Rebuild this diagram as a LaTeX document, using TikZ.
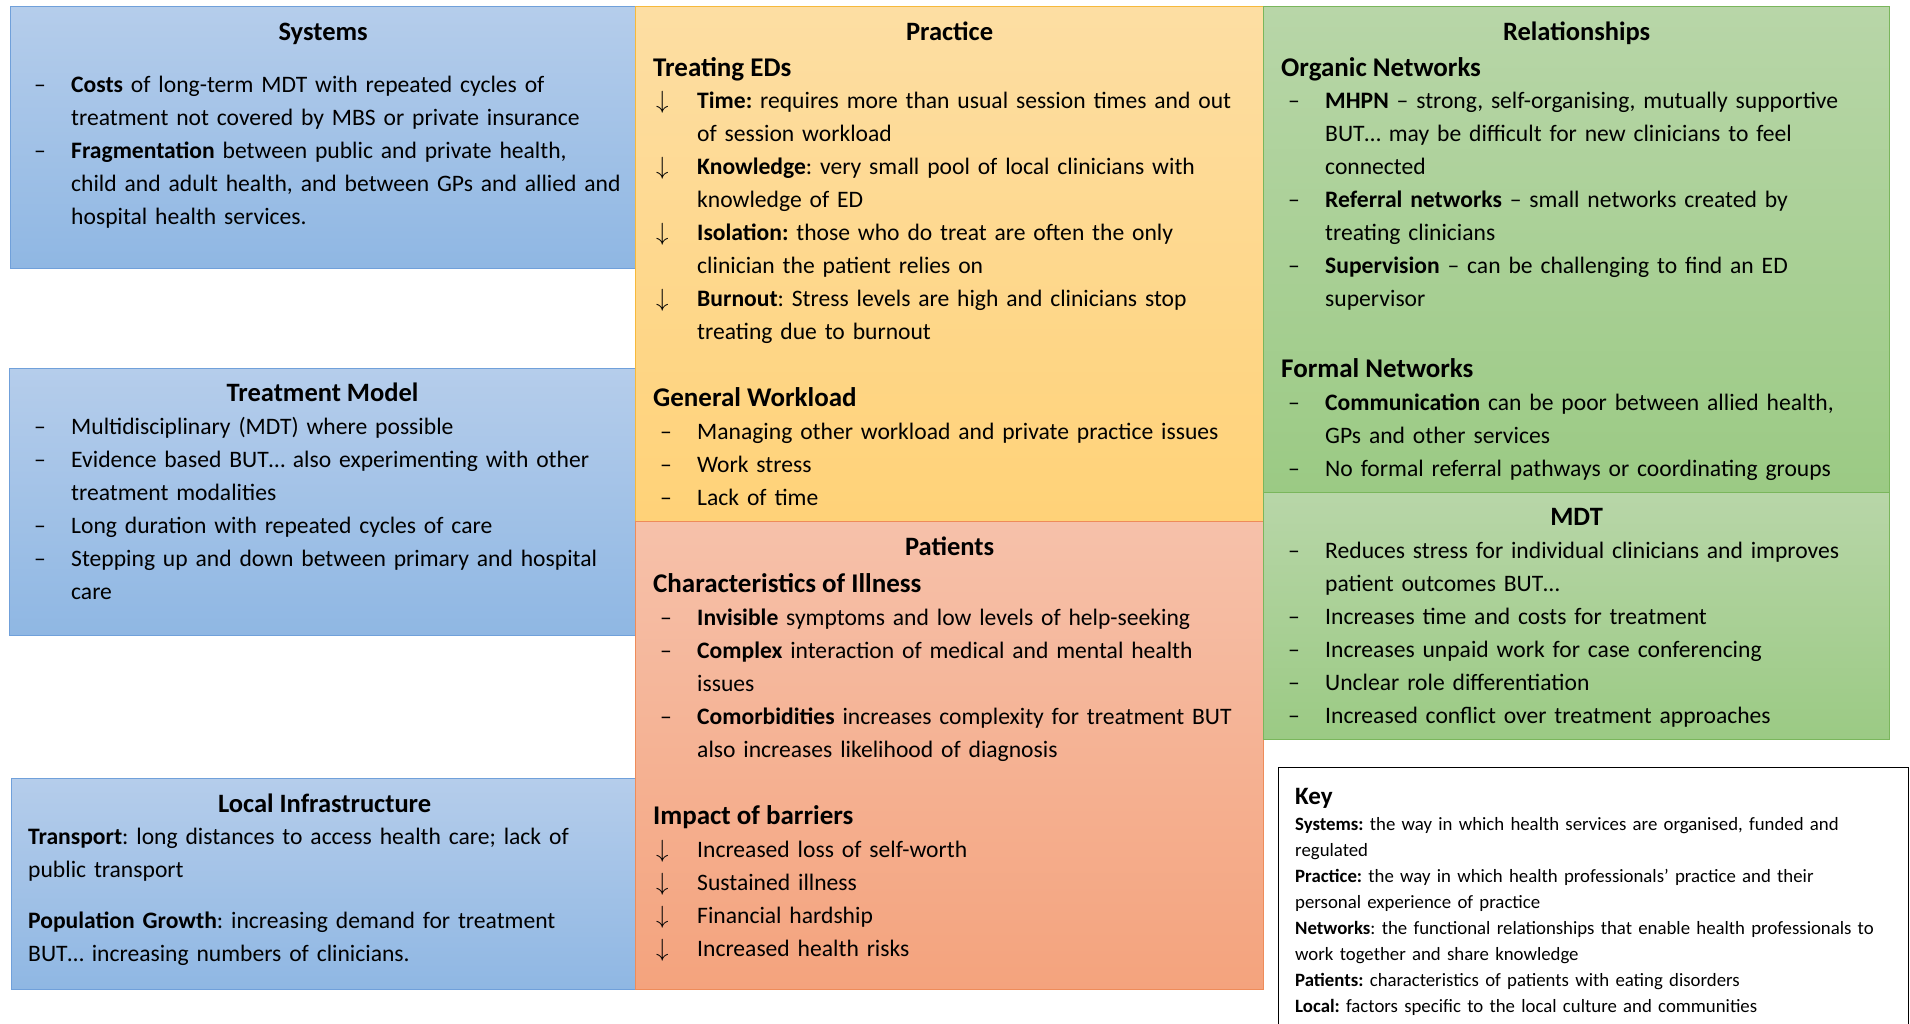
\documentclass[tikz,border=0pt]{standalone}
\usepackage{fontspec}
\setmainfont{Carlito}
\frenchspacing
\usetikzlibrary{positioning}

\definecolor{bluetop}{RGB}{181,205,235}
\definecolor{bluebot}{RGB}{143,183,227}
\definecolor{blueline}{RGB}{112,160,218}
\definecolor{ambertop}{RGB}{253,222,163}
\definecolor{amberbot}{RGB}{255,210,120}
\definecolor{amberline}{RGB}{246,185,60}
\definecolor{salmontop}{RGB}{246,193,170}
\definecolor{salmonbot}{RGB}{244,163,125}
\definecolor{salmonline}{RGB}{238,140,90}
\definecolor{greentop}{RGB}{184,214,168}
\definecolor{greenbot}{RGB}{155,202,132}
\definecolor{greenline}{RGB}{122,182,92}

\newcommand{\dashln}[1]{\makebox[44pt][l]{\hspace{7pt}–}#1\par}
\newcommand{\arrowln}[1]{\makebox[44pt][l]{\hspace{3pt}{\fontsize{27}{33}\selectfont$\downarrow$}}#1\par}
\newcommand{\contln}[1]{\leavevmode\hspace*{44pt}#1\par}

\tikzset{
  panel/.style={draw, line width=1.2pt, inner sep=0pt, anchor=north west},
  bluepanel/.style={panel, top color=bluetop, bottom color=bluebot, draw=blueline},
  amberpanel/.style={panel, top color=ambertop, bottom color=amberbot, draw=amberline},
  salmonpanel/.style={panel, top color=salmontop, bottom color=salmonbot, draw=salmonline},
  greenpanel/.style={panel, top color=greentop, bottom color=greenbot, draw=greenline},
  paneltitle/.style={anchor=base, inner sep=0pt, font=\fontsize{26.5}{33}\selectfont\bfseries},
  subhead/.style={anchor=base west, inner sep=0pt, font=\fontsize{27}{33}\selectfont\bfseries},
  body/.style={anchor=base west, inner sep=0pt, text width=600pt, align=left,
    font=\fontsize{23.6}{33}\selectfont},
  keybody/.style={anchor=base west, inner sep=0pt, text width=610pt, align=left,
    font=\fontsize{18.8}{26}\selectfont}
}

\begin{document}
\begin{tikzpicture}[x=1pt,y=1pt]
\useasboundingbox (0,0) rectangle (1910,-1024);

% left column
\node[bluepanel, minimum width=625pt, minimum height=262pt] (systems) at (10,-6) {};
\node[bluepanel, minimum width=626pt, minimum height=267pt] (treatment) at (9,-368) {};
\node[bluepanel, minimum width=626pt, minimum height=211pt] (local) at (11,-778) {};

% middle column
\node[amberpanel, minimum width=628pt, minimum height=515pt] (practice) at (635,-6) {};
\node[salmonpanel, minimum width=628pt, minimum height=468pt] (patients) at (635,-521) {};

% right column
\node[greenpanel, minimum width=626pt, minimum height=486pt] (relations) at (1263,-6) {};
\node[greenpanel, minimum width=626pt, minimum height=247pt] (mdt) at (1263,-492) {};
\node[inner sep=0pt, anchor=north west, minimum width=630pt, minimum height=257pt] (key) at (1278,-767) {};
\draw[line width=1pt] (key.south west) -- (key.north west) -- (key.north east) -- (key.south east);

% titles
\node[paneltitle] (systemstitle) at ([yshift=-35pt]systems.north) {Systems};
\node[paneltitle] (treatmenttitle) at ([yshift=-33pt]treatment.north) {Treatment Model};
\node[paneltitle] (localtitle) at ([yshift=-34pt]local.north) {Local Infrastructure};
\node[paneltitle] (practicetitle) at ([yshift=-35pt]practice.north) {Practice};
\node[paneltitle] (patientstitle) at ([yshift=-34pt]patients.north) {Patients};
\node[paneltitle] (relationstitle) at ([yshift=-35pt]relations.north) {Relationships};
\node[paneltitle] (mdttitle) at ([yshift=-33pt]mdt.north) {MDT};

% systems
\node[body] (systemstext) at ([shift={(17pt,-87pt)}]systems.north west) {%
  \dashln{\textbf{Costs} of long-term MDT with repeated cycles of}
  \contln{treatment not covered by MBS or private insurance}
  \dashln{\textbf{Fragmentation} between public and private health,}
  \contln{child and adult health, and between GPs and allied and}
  \contln{hospital health services.}};

% treatment model
\node[body] (treatmenttext) at ([shift={(18pt,-66pt)}]treatment.north west) {%
  \dashln{Multidisciplinary (MDT) where possible}
  \dashln{Evidence based BUT… also experimenting with other}
  \contln{treatment modalities}
  \dashln{Long duration with repeated cycles of care}
  \dashln{Stepping up and down between primary and hospital}
  \contln{care}};

% local infrastructure
\node[body] (localtext) at ([shift={(17pt,-66pt)}]local.north west) {%
  \textbf{Transport}: long distances to access health care; lack of\par
  public transport\par\vspace{18pt}
  \textbf{Population Growth}: increasing demand for treatment\par
  BUT… increasing numbers of clinicians.\par};

% practice
\node[subhead] (treating) at ([shift={(18pt,-71pt)}]practice.north west) {Treating EDs};
\node[body] (treatingtext) at ([shift={(18pt,-103pt)}]practice.north west) {%
  \arrowln{\textbf{Time:} requires more than usual session times and out}
  \contln{of session workload}
  \arrowln{\textbf{Knowledge}: very small pool of local clinicians with}
  \contln{knowledge of ED}
  \arrowln{\textbf{Isolation:} those who do treat are often the only}
  \contln{clinician the patient relies on}
  \arrowln{\textbf{Burnout}: Stress levels are high and clinicians stop}
  \contln{treating due to burnout}};
\node[subhead] (workload) at ([shift={(18pt,-400pt)}]practice.north west) {General Workload};
\node[body] (workloadtext) at ([shift={(18pt,-433pt)}]practice.north west) {%
  \dashln{Managing other workload and private practice issues}
  \dashln{Work stress}
  \dashln{Lack of time}};

% patients
\node[subhead] (illness) at ([shift={(18pt,-71pt)}]patients.north west) {Characteristics of Illness};
\node[body] (illnesstext) at ([shift={(18pt,-104pt)}]patients.north west) {%
  \dashln{\textbf{Invisible} symptoms and low levels of help-seeking}
  \dashln{\textbf{Complex} interaction of medical and mental health}
  \contln{issues}
  \dashln{\textbf{Comorbidities} increases complexity for treatment BUT}
  \contln{also increases likelihood of diagnosis}};
\node[subhead] (impact) at ([shift={(18pt,-303pt)}]patients.north west) {Impact of barriers};
\node[body] (impacttext) at ([shift={(18pt,-336pt)}]patients.north west) {%
  \arrowln{Increased loss of self-worth}
  \arrowln{Sustained illness}
  \arrowln{Financial hardship}
  \arrowln{Increased health risks}};

% relationships
\node[subhead] (organic) at ([shift={(18pt,-71pt)}]relations.north west) {Organic Networks};
\node[body] (organictext) at ([shift={(18pt,-103pt)}]relations.north west) {%
  \dashln{\textbf{MHPN} – strong, self-organising, mutually supportive}
  \contln{BUT… may be difficult for new clinicians to feel}
  \contln{connected}
  \dashln{\textbf{Referral networks} – small networks created by}
  \contln{treating clinicians}
  \dashln{\textbf{Supervision} – can be challenging to find an ED}
  \contln{supervisor}};
\node[subhead] (formal) at ([shift={(18pt,-371pt)}]relations.north west) {Formal Networks};
\node[body] (formaltext) at ([shift={(18pt,-404pt)}]relations.north west) {%
  \dashln{\textbf{Communication} can be poor between allied health,}
  \contln{GPs and other services}
  \dashln{No formal referral pathways or coordinating groups}};

% mdt
\node[body] (mdttext) at ([shift={(18pt,-66pt)}]mdt.north west) {%
  \dashln{Reduces stress for individual clinicians and improves}
  \contln{patient outcomes BUT…}
  \dashln{Increases time and costs for treatment}
  \dashln{Increases unpaid work for case conferencing}
  \dashln{Unclear role differentiation}
  \dashln{Increased conflict over treatment approaches}};

% key
\node[anchor=base west, inner sep=0pt, font=\fontsize{25}{30}\selectfont\bfseries] (keytitle)
  at ([shift={(17pt,-37pt)}]key.north west) {Key};
\node[keybody] (keytext) at ([shift={(17pt,-63pt)}]key.north west) {%
  \textbf{Systems:} the way in which health services are organised, funded and\par
  regulated\par
  \textbf{Practice:} the way in which health professionals’ practice and their\par
  personal experience of practice\par
  \textbf{Networks}: the functional relationships that enable health professionals to\par
  work together and share knowledge\par
  \textbf{Patients:} characteristics of patients with eating disorders\par
  \textbf{Local:} factors specific to the local culture and communities\par};

\end{tikzpicture}
\end{document}
